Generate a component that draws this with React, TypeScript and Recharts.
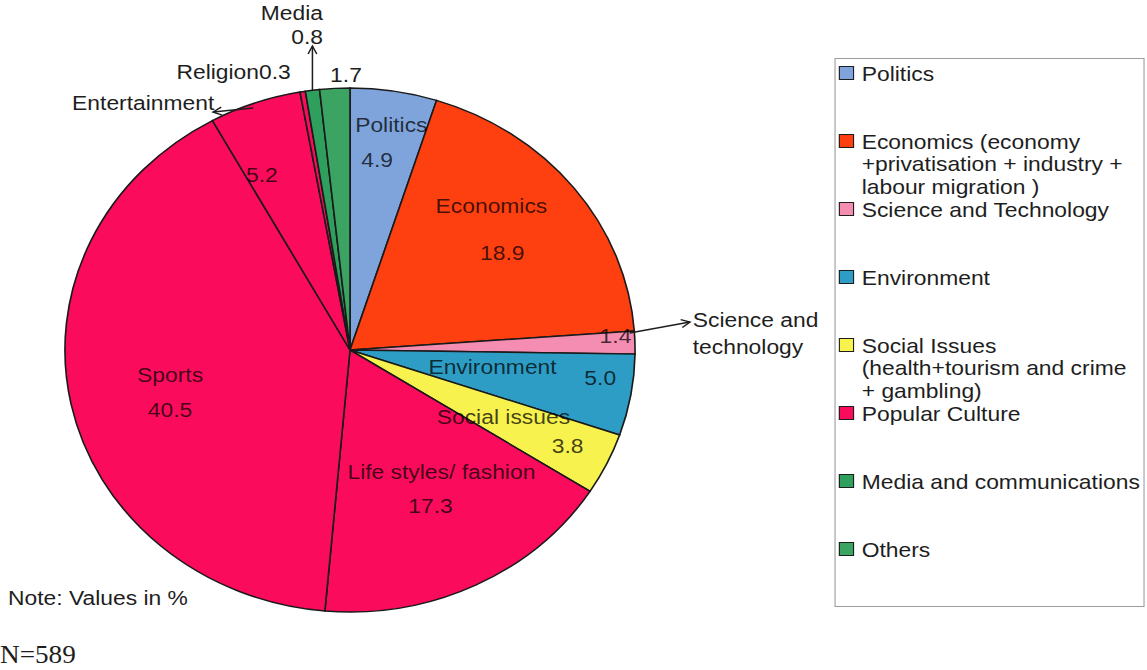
import { PieChart, Pie, Cell, Legend } from "recharts";

// the reference is a stretched Excel chart, so the whole drawing is scaled horizontally
const SX = 1.088;
const W = 1147 / SX;
const H = 670;
const CX = 321.7;
const CY = 350;
const R = 262;
const FONT = "'Liberation Sans', Arial, sans-serif";

const sliceNames = [
  "Politics",
  "Economics",
  "Science and technology",
  "Environment",
  "Social issues",
  "Life styles/ fashion",
  "Sports",
  "Entertainment",
  "Religion",
  "Media",
  "Others",
];
const sliceValues = [4.9, 18.9, 1.4, 5.0, 3.8, 17.3, 40.5, 5.2, 0.3, 0.8, 1.7];
// index into the legend groups
const sliceGroups = [0, 1, 2, 3, 4, 5, 5, 5, 5, 6, 7];

const legendLabels = [
  ["Politics"],
  ["Economics (economy", "+privatisation + industry +", "labour migration )"],
  ["Science and Technology"],
  ["Environment"],
  ["Social Issues", "(health+tourism and crime", "+ gambling)"],
  ["Popular Culture"],
  ["Media and communications"],
  ["Others"],
];
const legendColors = [
  "#7fa4dc",
  "#fe3f10",
  "#f58db2",
  "#2e9dc5",
  "#f7f24d",
  "#fb0b5c",
  "#2f9f5d",
  "#3ca463",
];

const slices = sliceNames.map((name, i) => ({
  name,
  value: sliceValues[i],
  group: sliceGroups[i],
}));

// label placement, offsets from the pie centre
type Spot = {
  name?: [number, number];
  value?: [number, number];
  nameLines?: string[];
  joined?: boolean;
  outside?: boolean;
  anchor?: "start" | "middle" | "end";
  arrow?: "edgeUp" | [number, number, number, number];
};
const spots: Spot[] = [
  { name: [38, -225], value: [25, -190] },
  { name: [130, -144], value: [140, -97] },
  {
    value: [244, -14],
    name: [315, -30],
    nameLines: ["Science and", "technology"],
    outside: true,
    anchor: "start",
    arrow: [257, -17, 312.5, -28],
  },
  { name: [131, 17], value: [230, 28] },
  { name: [141, 67], value: [200, 96] },
  { name: [84, 122], value: [74, 156] },
  { name: [-165.4, 25], value: [-165.4, 60] },
  { value: [-81, -175], name: [-124.7, -247], outside: true, anchor: "end", arrow: [-89, -242, -125.9, -238] },
  { name: [-107, -278], joined: true, outside: true },
  { name: [-24.8, -337], value: [-24.8, -313], outside: true, anchor: "end", arrow: "edgeUp" },
  { value: [-3.7, -275], outside: true },
];

const inkIn = { fill: "#000", fillOpacity: 0.74 };
const inkOut = { fill: "#1e1e1e" };

function Arrow({ x1, y1, x2, y2 }: { x1: number; y1: number; x2: number; y2: number }) {
  const len = Math.hypot(x2 - x1, y2 - y1);
  const ux = (x2 - x1) / len;
  const uy = (y2 - y1) / len;
  const hx = x2 - ux * 8;
  const hy = y2 - uy * 8;
  return (
    <g stroke="#1e1e1e" strokeWidth={1.4} fill="none">
      <line x1={x1} y1={y1} x2={x2} y2={y2} />
      <path d={`M${hx - uy * 4},${hy + ux * 4} L${x2},${y2} L${hx + uy * 4},${hy - ux * 4}`} />
    </g>
  );
}

const renderLabel = (props: any) => {
  const index = props.index;
  const spot = spots[index];
  const s = slices[index];
  const cx = props.cx ?? CX;
  const cy = props.cy ?? CY;
  const r = props.outerRadius ?? R;
  const rad = Math.PI / 180;
  const edgeX = cx + r * Math.cos(-props.midAngle * rad);
  const edgeY = cy + r * Math.sin(-props.midAngle * rad);
  const valueText = s.value.toFixed(1);
  const nameInk = spot.outside ? inkOut : inkIn;
  const anchor = spot.anchor ?? "middle";
  const common = { fontFamily: FONT, fontSize: 21, dominantBaseline: "central" as const };

  return (
    <g key={"lbl-" + index}>
      {spot.arrow === "edgeUp" && <Arrow x1={edgeX} y1={edgeY} x2={edgeX} y2={cy - 304} />}
      {Array.isArray(spot.arrow) && (
        <Arrow
          x1={cx + spot.arrow[0]}
          y1={cy + spot.arrow[1]}
          x2={cx + spot.arrow[2]}
          y2={cy + spot.arrow[3]}
        />
      )}
      {spot.name &&
        (spot.nameLines ?? [spot.joined ? s.name + valueText : s.name]).map((line, li) => (
          <text
            key={li}
            x={cx + spot.name![0]}
            y={cy + spot.name![1] + li * 27}
            textAnchor={anchor}
            {...common}
            {...nameInk}
          >
            {line}
          </text>
        ))}
      {spot.value && (
        <text
          x={cx + spot.value[0]}
          y={cy + spot.value[1]}
          textAnchor={spot.name && spot.outside && index !== 9 ? "middle" : anchor}
          {...common}
          {...(index === 9 || index === 10 ? inkOut : inkIn)}
        >
          {valueText}
        </text>
      )}
    </g>
  );
};

function LegendBox() {
  return (
    <div
      style={{
        position: "relative",
        width: "100%",
        height: "100%",
        border: "1px solid #9c9c9c",
        boxSizing: "border-box",
        fontFamily: FONT,
        fontSize: 21,
        color: "#1e1e1e",
      }}
    >
      {legendLabels.map((lines, i) => {
        const top = 14 + i * 68.1;
        return (
          <div key={i}>
            <div
              style={{
                position: "absolute",
                left: 3.5,
                top: top - 7.5,
                width: 12,
                height: 12,
                background: legendColors[i],
                border: "1.5px solid #1e1e1e",
              }}
            />
            {lines.map((line, li) => (
              <div
                key={li}
                style={{
                  position: "absolute",
                  left: 24.5,
                  top: top - 11.5 + li * 22.5,
                  lineHeight: "23px",
                  whiteSpace: "nowrap",
                }}
              >
                {line}
              </div>
            ))}
          </div>
        );
      })}
    </div>
  );
}

export default function App() {
  return (
    <div
      style={{
        position: "absolute",
        left: 0,
        top: 0,
        width: 1147,
        height: H,
        overflow: "hidden",
        background: "#fff",
      }}
    >
      <div
        style={{
          position: "relative",
          width: W,
          height: H,
          transform: `scaleX(${SX})`,
          transformOrigin: "0 0",
        }}
      >
        <PieChart width={W} height={H} margin={{ top: 0, right: 0, bottom: 0, left: 0 }}>
          <Pie
            data={slices}
            dataKey="value"
            nameKey="name"
            cx={CX}
            cy={CY}
            outerRadius={R}
            startAngle={90}
            endAngle={-270}
            stroke="#1a1a1a"
            strokeWidth={1.5}
            label={renderLabel}
            labelLine={false}
            isAnimationActive={false}
          >
            {slices.map((s, i) => (
              <Cell key={"cell-" + i} fill={legendColors[s.group]} />
            ))}
          </Pie>
          <Legend
            layout="vertical"
            align="right"
            verticalAlign="top"
            wrapperStyle={{ left: 766.5, top: 58, right: "auto", width: 285.5, height: 549 }}
            content={() => <LegendBox />}
          />
        </PieChart>
        <svg
          width={W}
          height={H}
          style={{ position: "absolute", left: 0, top: 0, pointerEvents: "none" }}
        >
          <text x={7.4} y={605.5} fontFamily={FONT} fontSize={21} fill="#1e1e1e">
            Note: Values in %
          </text>
          <text x={0} y={663} fontFamily="'Liberation Serif', 'Times New Roman', serif" fontSize={25} fill="#1e1e1e">
            N=589
          </text>
        </svg>
      </div>
    </div>
  );
}
